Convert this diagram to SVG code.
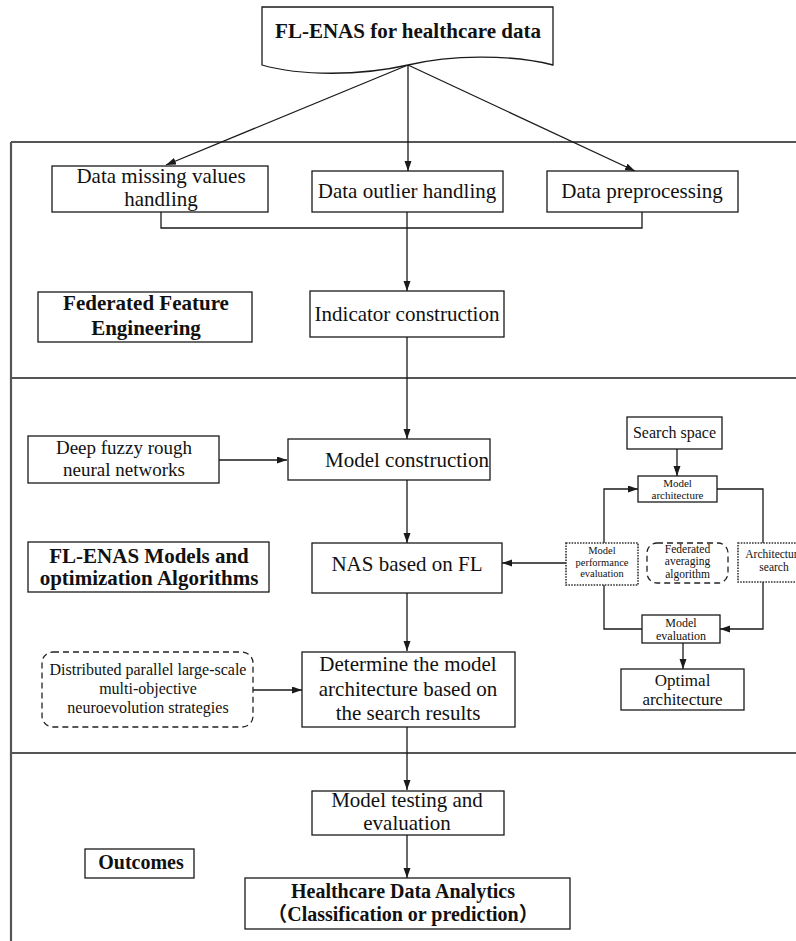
<svg xmlns="http://www.w3.org/2000/svg" width="796" height="941" viewBox="0 0 796 941">
  <defs>
    <marker id="arrow" markerUnits="userSpaceOnUse" markerWidth="11" markerHeight="8" refX="10" refY="3.5" orient="auto">
      <path d="M0,0 L10,3.5 L0,7 z" fill="#1a1a1a"/>
    </marker>
    <style>
      .box { fill: #fff; stroke: #1a1a1a; stroke-width: 1.3; }
      .dot { fill: #fff; stroke: #333; stroke-width: 1.6; stroke-dasharray: 1.6 1.2; }
      .dash { fill: #fff; stroke: #222; stroke-width: 1.3; stroke-dasharray: 6 4; }
      .frame { fill: none; stroke: #555; stroke-width: 2.2; }
      .conn { fill: none; stroke: #1a1a1a; stroke-width: 1.3; }
      .arr { marker-end: url(#arrow); }
      text { font-family: "Liberation Serif", "Times New Roman", "DejaVu Serif", serif; fill: #111; text-anchor: middle; }
      .cjk { font-family: "Liberation Serif", "Noto Sans CJK SC", serif; }
      .b { font-weight: bold; }
      .t21 { font-size: 21px; }
      .t19 { font-size: 19px; }
      .t16 { font-size: 16px; }
    </style>
  </defs>

  <rect width="796" height="941" fill="#fff"/>

  <!-- section frame -->
  <g id="frame">
    <line class="frame" x1="11" y1="142" x2="11" y2="941"/>
    <line class="frame" x1="11" y1="142" x2="796" y2="142"/>
    <line class="frame" x1="11" y1="378" x2="796" y2="378"/>
    <line class="frame" x1="11" y1="753" x2="796" y2="753"/>
  </g>

  <!-- connectors -->
  <g id="connectors">
    <line class="conn arr" x1="408" y1="65" x2="166" y2="165"/>
    <line class="conn arr" x1="408" y1="65" x2="408" y2="171"/>
    <line class="conn arr" x1="408" y1="65" x2="635" y2="171"/>
    <polyline class="conn" points="161,212 161,228 642,228 642,212"/>
    <line class="conn" x1="407" y1="212" x2="407" y2="228"/>
    <line class="conn arr" x1="407" y1="228" x2="407" y2="291"/>
    <line class="conn arr" x1="407" y1="337" x2="407" y2="439"/>
    <line class="conn arr" x1="219" y1="460" x2="287" y2="460"/>
    <line class="conn arr" x1="407" y1="480" x2="407" y2="543"/>
    <line class="conn arr" x1="566" y1="563" x2="502" y2="563"/>
    <line class="conn arr" x1="407" y1="593" x2="407" y2="651"/>
    <line class="conn arr" x1="253" y1="690" x2="302" y2="690"/>
    <line class="conn arr" x1="407" y1="727" x2="407" y2="790"/>
    <line class="conn arr" x1="407" y1="835" x2="407" y2="878"/>
    <!-- search loop -->
    <line class="conn arr" x1="677" y1="449" x2="677" y2="476"/>
    <polyline class="conn arr" points="604,543 604,489 638,489"/>
    <polyline class="conn" points="717,489 763,489 763,543"/>
    <polyline class="conn" points="604,585 604,629 642,629"/>
    <polyline class="conn arr" points="763,582 763,629 720,629"/>
    <line class="conn arr" x1="683" y1="643" x2="683" y2="669"/>
  </g>

  <!-- top document node -->
  <g id="n-title">
    <path class="box" d="M262,7 H553 V65 C510,54 450,55 408,65 C360,76 300,76 262,65 Z"/>
    <text class="b t21" x="408" y="38">FL-ENAS for healthcare data</text>
  </g>

  <!-- federated feature engineering -->
  <g id="n-missing">
    <rect class="box" x="52" y="166" width="216" height="46"/>
    <text class="t21" x="161" y="183">Data missing values</text>
    <text class="t21" x="161" y="206">handling</text>
  </g>
  <g id="n-outlier">
    <rect class="box" x="312" y="171" width="191" height="41"/>
    <text class="t21" x="407" y="198">Data outlier handling</text>
  </g>
  <g id="n-preproc">
    <rect class="box" x="547" y="171" width="191" height="41"/>
    <text class="t21" x="642" y="198">Data preprocessing</text>
  </g>
  <g id="n-indicator">
    <rect class="box" x="310" y="291" width="194" height="46"/>
    <text class="t21" x="407" y="321">Indicator construction</text>
  </g>
  <g id="n-ffe">
    <rect class="box" x="38" y="292" width="214" height="50"/>
    <text class="b t21" x="146" y="310">Federated Feature</text>
    <text class="b t21" x="146" y="335">Engineering</text>
  </g>

  <!-- models and optimization -->
  <g id="n-dfrnn">
    <rect class="box" x="28" y="436" width="191" height="47"/>
    <text class="t19" x="124" y="454">Deep fuzzy rough</text>
    <text class="t19" x="124" y="476">neural networks</text>
  </g>
  <g id="n-modelcons">
    <rect class="box" x="288" y="439" width="202" height="41"/>
    <text class="t21" x="407" y="467">Model construction</text>
  </g>
  <g id="n-nas">
    <rect class="box" x="312" y="543" width="190" height="50"/>
    <text class="t21" x="407" y="571">NAS based on FL</text>
  </g>
  <g id="n-models">
    <rect class="box" x="28" y="542" width="241" height="50"/>
    <text class="b t21" x="149" y="563">FL-ENAS Models and</text>
    <text class="b t21" x="149" y="585">optimization Algorithms</text>
  </g>
  <g id="n-distributed">
    <rect class="dash" x="42" y="652" width="211" height="75" rx="11"/>
    <text class="t16" x="148" y="675">Distributed parallel large-scale</text>
    <text class="t16" x="148" y="694">multi-objective</text>
    <text class="t16" x="148" y="713">neuroevolution strategies</text>
  </g>
  <g id="n-determine">
    <rect class="box" x="302" y="652" width="213" height="75"/>
    <text class="t21" x="408" y="671">Determine the model</text>
    <text class="t21" x="408" y="696">architecture based on</text>
    <text class="t21" x="408" y="720">the search results</text>
  </g>

  <!-- architecture search loop -->
  <g id="n-space">
    <rect class="box" x="627" y="417" width="95" height="32"/>
    <text x="674.5" y="438" font-size="16">Search space</text>
  </g>
  <g id="n-arch">
    <rect class="box" x="638" y="476" width="79" height="26"/>
    <text x="677.5" y="487" font-size="11">Model</text>
    <text x="677.5" y="499.3" font-size="11">architecture</text>
  </g>
  <g id="n-perf">
    <rect class="dot" x="566" y="543" width="72" height="42"/>
    <text x="602" y="554" font-size="10.5">Model</text>
    <text x="602" y="565.7" font-size="10.5">performance</text>
    <text x="602" y="577.4" font-size="10.5">evaluation</text>
  </g>
  <g id="n-fedavg">
    <rect class="dash" x="647" y="543" width="81" height="40" rx="10"/>
    <text x="687.5" y="552.5" font-size="11.5">Federated</text>
    <text x="687.5" y="565" font-size="11.5">averaging</text>
    <text x="687.5" y="577.5" font-size="11.5">algorithm</text>
  </g>
  <g id="n-search">
    <rect class="dot" x="738" y="543" width="72" height="39"/>
    <text x="774" y="558" font-size="11.5">Architecture</text>
    <text x="774" y="571" font-size="11.5">search</text>
  </g>
  <g id="n-eval">
    <rect class="box" x="642" y="615" width="78" height="28"/>
    <text x="681" y="626.5" font-size="12">Model</text>
    <text x="681" y="639.8" font-size="12">evaluation</text>
  </g>
  <g id="n-optimal">
    <rect class="box" x="621" y="669" width="123" height="41"/>
    <text x="682.5" y="686" font-size="17">Optimal</text>
    <text x="682.5" y="705" font-size="17">architecture</text>
  </g>

  <!-- outcomes -->
  <g id="n-testing">
    <rect class="box" x="312" y="791" width="192" height="44"/>
    <text class="t21" x="407" y="807">Model testing and</text>
    <text class="t21" x="407" y="830">evaluation</text>
  </g>
  <g id="n-outcomes">
    <rect class="box" x="85" y="849" width="109" height="29"/>
    <text class="b" x="141" y="869" font-size="20">Outcomes</text>
  </g>
  <g id="n-analytics">
    <rect class="box" x="245" y="878" width="325" height="51"/>
    <text class="b" x="403" y="898" font-size="20">Healthcare Data Analytics</text>
    <text class="b cjk" x="403" y="921" font-size="20">（Classification or prediction）</text>
  </g>
</svg>
